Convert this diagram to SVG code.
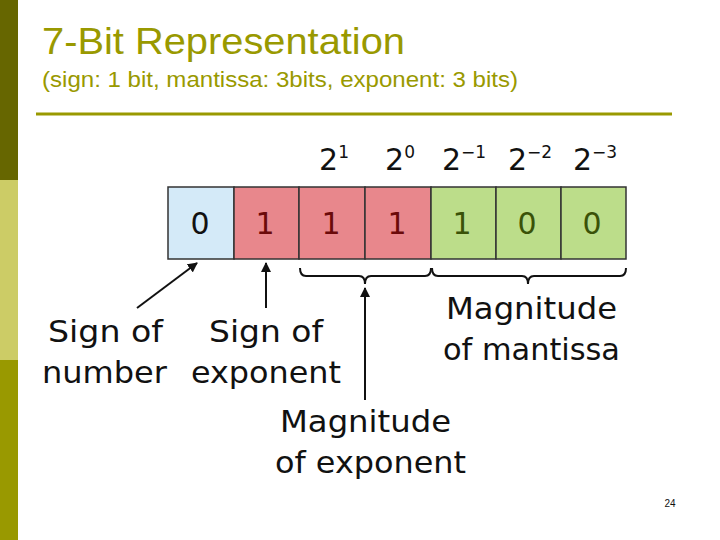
<svg xmlns="http://www.w3.org/2000/svg" width="720" height="540" viewBox="0 0 720 540">
<style>
.c{stroke:#333;stroke-width:1.5}
.d{font-family:"DejaVu Sans",sans-serif;font-size:30px;text-anchor:middle}
.l{font-family:"DejaVu Sans",sans-serif;font-size:30px;fill:#111}
.p{font-family:"DejaVu Sans",sans-serif;font-size:30px;fill:#111;text-anchor:middle}
.s{font-size:17px}
.ln{stroke:#111;stroke-width:2;fill:none}
</style>
<defs><marker id="a" markerWidth="10" markerHeight="10" refX="9" refY="5" orient="auto" markerUnits="userSpaceOnUse"><path d="M0,0L10,5L0,10z" fill="#111"/></marker></defs>
<rect width="720" height="540" fill="#fff"/>
<rect x="0" y="0" width="18" height="180" fill="#666600"/>
<rect x="0" y="180" width="18" height="180" fill="#cccc66"/>
<rect x="0" y="360" width="18" height="180" fill="#999900"/>
<text x="42" y="54" font-family="Liberation Sans,sans-serif" font-size="37" fill="#999900" textLength="363" lengthAdjust="spacingAndGlyphs">7-Bit Representation</text>
<text x="42" y="87" font-family="Liberation Sans,sans-serif" font-size="22" fill="#999900" textLength="476" lengthAdjust="spacingAndGlyphs">(sign: 1 bit, mantissa: 3bits, exponent: 3 bits)</text>
<line x1="36" y1="114" x2="672" y2="114" stroke="#999900" stroke-width="3"/>
<g id="powers">
<text class="p" x="334" y="170">2<tspan class="s" dy="-12">1</tspan></text>
<text class="p" x="400" y="170">2<tspan class="s" dy="-12">0</tspan></text>
<text class="p" x="464" y="170">2<tspan class="s" dy="-12">−1</tspan></text>
<text class="p" x="530" y="170">2<tspan class="s" dy="-12">−2</tspan></text>
<text class="p" x="595" y="170">2<tspan class="s" dy="-12">−3</tspan></text>
</g>
<g id="cells">
<rect class="c" x="168" y="187" width="66" height="72" fill="#d4eaf8"/>
<rect class="c" x="234" y="187" width="65" height="72" fill="#e8878c"/>
<rect class="c" x="299" y="187" width="66" height="72" fill="#e8878c"/>
<rect class="c" x="365" y="187" width="66" height="72" fill="#e8878c"/>
<rect class="c" x="431" y="187" width="65" height="72" fill="#bcdd8a"/>
<rect class="c" x="496" y="187" width="65" height="72" fill="#bcdd8a"/>
<rect class="c" x="561" y="187" width="65" height="72" fill="#bcdd8a"/>
<text class="d" x="200" y="234" fill="#111">0</text>
<text class="d" x="265" y="234" fill="#6b0a0a">1</text>
<text class="d" x="331" y="234" fill="#6b0a0a">1</text>
<text class="d" x="397" y="234" fill="#6b0a0a">1</text>
<text class="d" x="462" y="234" fill="#3a5208">1</text>
<text class="d" x="527" y="234" fill="#3a5208">0</text>
<text class="d" x="592" y="234" fill="#3a5208">0</text>
</g>
<g id="connectors">
<path class="ln" d="M300,268 Q300,276 306,276 L359,276 Q365,276 365,284 Q365,276 371,276 L425,276 Q431,276 431,268"/>
<path class="ln" d="M432,268 Q432,276 438,276 L522,276 Q528,276 528,284 Q528,276 534,276 L620,276 Q626,276 626,268"/>
<line class="ln" x1="137" y1="308" x2="197" y2="263" marker-end="url(#a)"/>
<line class="ln" x1="266" y1="308" x2="266" y2="263" marker-end="url(#a)"/>
<line class="ln" x1="365" y1="400" x2="365" y2="288" marker-end="url(#a)"/>
</g>
<g id="labels">
<text class="l" x="48" y="342" textLength="115" lengthAdjust="spacingAndGlyphs">Sign of</text>
<text class="l" x="42" y="383" textLength="125" lengthAdjust="spacingAndGlyphs">number</text>
<text class="l" x="209" y="342" textLength="114" lengthAdjust="spacingAndGlyphs">Sign of</text>
<text class="l" x="191" y="383" textLength="150" lengthAdjust="spacingAndGlyphs">exponent</text>
<text class="l" x="446" y="319" textLength="171" lengthAdjust="spacingAndGlyphs">Magnitude</text>
<text class="l" x="443" y="360" textLength="177" lengthAdjust="spacingAndGlyphs">of mantissa</text>
<text class="l" x="280" y="432" textLength="171" lengthAdjust="spacingAndGlyphs">Magnitude</text>
<text class="l" x="275" y="473" textLength="191" lengthAdjust="spacingAndGlyphs">of exponent</text>
</g>
<text x="670" y="507" font-family="Liberation Sans,sans-serif" font-size="10" text-anchor="middle" fill="#111">24</text>
</svg>
